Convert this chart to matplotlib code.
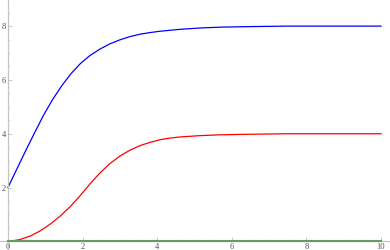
import matplotlib
matplotlib.use("Agg")
import matplotlib.pyplot as plt
from matplotlib.ticker import MultipleLocator

# values
blue_x = [0, 0.2, 0.45, 0.7, 0.95, 1.2, 1.45, 1.7, 1.95, 2.2, 2.47, 2.73,
          3.0, 3.27, 3.54, 3.81, 4.08, 4.61, 5.15, 5.68, 6.4, 7.5, 10]
blue_y = [2.0, 2.58, 3.30, 4.0, 4.68, 5.28, 5.80, 6.25, 6.62, 6.91, 7.15, 7.34,
          7.49, 7.61, 7.70, 7.76, 7.81, 7.88, 7.93, 7.96, 7.98, 8.0, 8.0]

red_x = [0, 0.3, 0.6, 0.85, 1.13, 1.39, 1.66, 1.93, 2.20, 2.47, 2.73,
         3.0, 3.27, 3.54, 3.81, 4.08, 4.35, 4.61, 5.15, 5.68, 6.4, 7.5, 10]
red_y = [0, 0.06, 0.2, 0.38, 0.64, 0.93, 1.28, 1.69, 2.14, 2.55, 2.89,
         3.17, 3.39, 3.56, 3.68, 3.78, 3.84, 3.88, 3.93, 3.96, 3.98, 4.0, 4.0]

green_x = [0, 10]
green_y = [0, 0]

x_ticks = [0, 2, 4, 6, 8, 10]
y_ticks = [2, 4, 6, 8]

fig = plt.figure(figsize=(3.9, 2.5), dpi=100)
ax = fig.add_axes([0, 0, 1, 1])

ax.plot(blue_x, blue_y, color='#0000ff', lw=0.9, solid_joinstyle='round')
ax.plot(red_x, red_y, color='#ff0000', lw=0.9, solid_joinstyle='round')
ax.plot(green_x, green_y, color='#669966', lw=1.5, zorder=3)

ax.set_xlim(-0.214, 10.24)
ax.set_ylim(-0.32, 8.97)

for side in ['top', 'right']:
    ax.spines[side].set_visible(False)
ax.spines['left'].set_position(('data', 0))
ax.spines['bottom'].set_position(('data', 0))
for side in ['left', 'bottom']:
    ax.spines[side].set_color('#c4c4c4')
    ax.spines[side].set_linewidth(0.9)

ax.set_xticks(x_ticks)
ax.set_yticks(y_ticks)
ax.xaxis.set_minor_locator(MultipleLocator(0.5))
ax.yaxis.set_minor_locator(MultipleLocator(0.5))
ax.tick_params(which='major', direction='in', length=3, width=0.6, color='#c4c4c4',
               labelsize=6.2, labelcolor='#555555', pad=1.5)
ax.tick_params(which='minor', direction='in', length=1.6, width=0.5, color='#d0d0d0')
for lab in ax.get_xticklabels() + ax.get_yticklabels():
    lab.set_fontfamily('Liberation Serif')

fig.savefig('out.png', dpi=100)
